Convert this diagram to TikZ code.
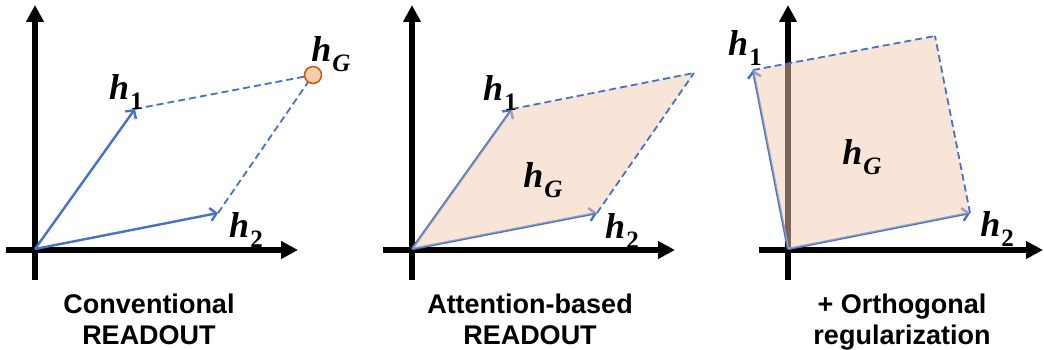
\documentclass[tikz,border=0pt]{standalone}
\usepackage{fontspec}
\setmainfont{Liberation Sans}
\newfontfamily\hfont{Liberation Serif}
\usepackage{tikz}
\usetikzlibrary{arrows.meta, positioning}

\definecolor{vecblue}{RGB}{68,114,196}
\definecolor{hgfill}{RGB}{244,203,177}
\definecolor{hgdot}{RGB}{248,203,173}
\definecolor{hgedge}{RGB}{197,90,17}

% vettore h con pedice
\newcommand{\hlab}[1]{{\hfont\bfseries\itshape h}\kern1pt\raisebox{-0.28em}{\fontsize{25}{25}\selectfont\hfont\bfseries #1}}

\begin{document}
\begin{tikzpicture}[x=1pt, y=-1pt,
    axis/.style={line width=6pt, -{Triangle[length=17pt,width=17pt]}},
    vec/.style={vecblue, line width=2.4pt, -{Straight Barb[length=6pt,width=13pt]}},
    link/.style={vecblue, line width=1.8pt, dash pattern=on 7pt off 4pt},
    area/.style={fill=hgfill, fill opacity=0.5},
    lbl/.style={font=\fontsize{36}{40}\selectfont, inner sep=0pt},
    caption/.style={font=\fontsize{27}{31}\selectfont\bfseries, align=center,
      anchor=north, inner sep=0pt}]

  \useasboundingbox (0,0) rectangle (1044,350);

  % --- Pannello 1: readout convenzionale ---
  \coordinate (o1) at (35,249);
  \coordinate (a1) at (135,109);
  \coordinate (b1) at (218,213);
  \coordinate (g1) at (313,75);
  \draw[axis] (35,280) -- (35,5);
  \draw[axis] (6,250) -- (298,250);
  \draw[vec] (o1) -- (a1);
  \draw[vec] (o1) -- (b1);
  \draw[link] (a1) -- (g1);
  \draw[link] (b1) -- (g1);
  \filldraw[fill=hgdot, draw=hgedge, line width=1.5pt] (g1) circle (8.5pt);
  \node[lbl] (h1a) at (126,92) {\hlab{1}};
  \node[lbl] (h2a) at (246,230) {\hlab{2}};
  \node[lbl] (hga) at (331,54) {\hlab{\itshape G}};
  \node[caption] (cap1) at (149,294) {Conventional\\READOUT};

  % --- Pannello 2: readout con attenzione ---
  \coordinate (o2) at (412,249);
  \coordinate (a2) at (512,109);
  \coordinate (b2) at (597,213);
  \coordinate (g2) at (694,73);
  \draw[axis] (412,280) -- (412,5);
  \draw[axis] (383,250) -- (675,250);
  \draw[vec] (o2) -- (a2);
  \draw[vec] (o2) -- (b2);
  \fill[area] (o2) -- (a2) -- (g2) -- (b2) -- cycle;
  \draw[link] (a2) -- (g2);
  \draw[link] (b2) -- (g2);
  \node[lbl] (h1b) at (500,93) {\hlab{1}};
  \node[lbl] (h2b) at (622,231) {\hlab{2}};
  \node[lbl] (hgb) at (543,180) {\hlab{\itshape G}};
  \node[caption] (cap2) at (530,294) {Attention-based\\READOUT};

  % --- Pannello 3: + regolarizzazione ortogonale ---
  \coordinate (o3) at (788,249);
  \coordinate (a3) at (753,70);
  \coordinate (b3) at (970,213);
  \coordinate (g3) at (935,36);
  \draw[axis] (788,280) -- (788,5);
  \draw[axis] (759,250) -- (1043,250);
  \draw[vec] (o3) -- (a3);
  \draw[vec] (o3) -- (b3);
  \fill[area] (o3) -- (a3) -- (g3) -- (b3) -- cycle;
  \draw[link] (a3) -- (g3);
  \draw[link] (b3) -- (g3);
  \node[lbl] (h1c) at (745,48) {\hlab{1}};
  \node[lbl] (h2c) at (997,229) {\hlab{2}};
  \node[lbl] (hgc) at (862,157) {\hlab{\itshape G}};
  \node[caption] (cap3) at (902,294) {+ Orthogonal\\regularization};

\end{tikzpicture}
\end{document}
